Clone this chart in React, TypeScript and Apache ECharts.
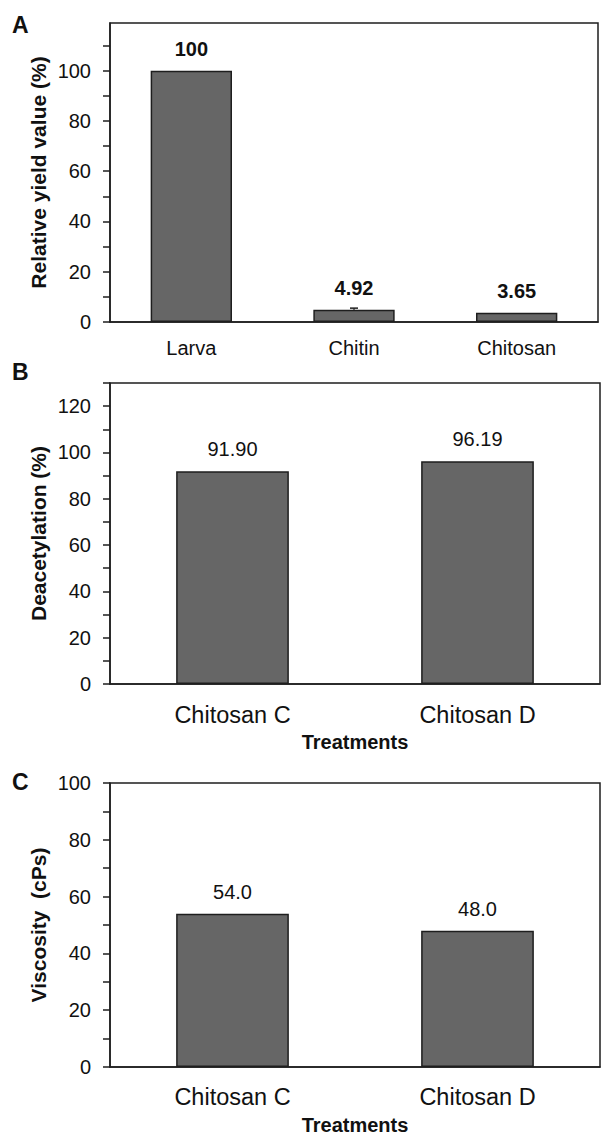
import React, { useEffect, useRef } from "react";
import * as echarts from "echarts";

const yieldCategories = ["Larva", "Chitin", "Chitosan"];
const yieldValues = [100, 4.92, 3.65];
const yieldLabels = ["100", "4.92", "3.65"];
const yieldErrors = [0, 0.6, 0];

const treatmentCategories = ["Chitosan C", "Chitosan D"];
const deacetylationValues = [91.9, 96.19];
const viscosityValues = [54.0, 48.0];

const yieldTicks = [0, 10, 20, 30, 40, 50, 60, 70, 80, 90, 100, 110];
const yieldTickLabels = [0, 20, 40, 60, 80, 100];
const deacTicks = [0, 10, 20, 30, 40, 50, 60, 70, 80, 90, 100, 110, 120, 130];
const deacTickLabels = [0, 20, 40, 60, 80, 100, 120];
const viscTicks = [0, 10, 20, 30, 40, 50, 60, 70, 80, 90, 100];
const viscTickLabels = [0, 20, 40, 60, 80, 100];

const FONT = 'Arial, "Liberation Sans", sans-serif';
const INK = "#111";
const BAR = "#666666";
const EDGE = "#1e1e1e";

export default function App() {
  const ref = useRef<HTMLDivElement>(null);
  useEffect(() => {
    if (!ref.current) return;
    const chart = echarts.init(ref.current, null, { renderer: "svg" });

    const grid = (top: number, height: number, width: number) => ({
      left: 110,
      top,
      width,
      height,
      show: true,
      borderColor: EDGE,
      borderWidth: 1.5,
      backgroundColor: "transparent",
      containLabel: false,
    });

    const xAxis = (gi: number, cats: string[], fontSize: number, margin: number, name: string) => ({
      type: "category",
      gridIndex: gi,
      data: cats,
      axisLine: { show: true, lineStyle: { color: EDGE, width: 1.5 } },
      axisTick: { show: false },
      axisLabel: { color: INK, fontSize, fontFamily: FONT, margin },
      name,
      nameLocation: "middle",
      nameGap: 48,
      nameMoveOverlap: false,
      nameTextStyle: { color: INK, fontSize: 20, fontWeight: "bold", fontFamily: FONT },
    });

    const yAxis = (gi: number, max: number, ticks: number[], labels: number[], name: string) => ({
      type: "value",
      gridIndex: gi,
      min: 0,
      max,
      interval: 10,
      splitLine: { show: false },
      axisLine: { show: true, lineStyle: { color: EDGE, width: 1.5 } },
      axisTick: { show: true, inside: false, length: 7, customValues: ticks, lineStyle: { color: EDGE, width: 1.5 } },
      axisLabel: { color: INK, fontSize: 20, fontFamily: FONT, margin: 19, customValues: labels },
      name,
      nameLocation: "middle",
      nameGap: 61,
      nameMoveOverlap: false,
      nameTextStyle: { color: INK, fontSize: 21, fontWeight: "bold", fontFamily: FONT },
    });

    const barSeries = (gi: number, values: number[], width: string, fmt: (i: number) => string, bold: boolean) => ({
      type: "bar",
      xAxisIndex: gi,
      yAxisIndex: gi,
      data: values,
      barWidth: width,
      itemStyle: { color: BAR, borderColor: EDGE, borderWidth: 1.5 },
      label: {
        show: true,
        position: "top",
        distance: 12,
        color: INK,
        fontSize: 20,
        fontFamily: FONT,
        fontWeight: bold ? "bold" : "normal",
        formatter: (p: any) => fmt(p.dataIndex),
      },
    });

    chart.setOption({
      animation: false,
      backgroundColor: "#ffffff",
      grid: [grid(23, 299, 488), grid(383, 301, 490), grid(783, 284, 490)],
      xAxis: [
        xAxis(0, yieldCategories, 20, 16, ""),
        xAxis(1, treatmentCategories, 23.5, 19, "Treatments"),
        xAxis(2, treatmentCategories, 23.5, 18, "Treatments"),
      ],
      yAxis: [
        yAxis(0, 119, yieldTicks, yieldTickLabels, "Relative yield value (%)"),
        yAxis(1, 130, deacTicks, deacTickLabels, "Deacetylation (%)"),
        yAxis(2, 100, viscTicks, viscTickLabels, "Viscosity  (cPs)"),
      ],
      series: [
        barSeries(0, yieldValues, "50%", (i) => yieldLabels[i], true),
        {
          type: "custom",
          xAxisIndex: 0,
          yAxisIndex: 0,
          data: yieldValues.map((v, i) => [i, v, yieldErrors[i]]),
          renderItem: (params: any, api: any) => {
            const err = api.value(2);
            if (!err) return null;
            const base = api.coord([api.value(0), api.value(1)]);
            const top = api.coord([api.value(0), api.value(1) + err]);
            return {
              type: "group",
              children: [
                { type: "line", shape: { x1: base[0], y1: base[1], x2: top[0], y2: top[1] }, style: { stroke: EDGE, lineWidth: 1.5 } },
                { type: "line", shape: { x1: top[0] - 4, y1: top[1], x2: top[0] + 4, y2: top[1] }, style: { stroke: EDGE, lineWidth: 1.5 } },
              ],
            };
          },
          z: 3,
        },
        barSeries(1, deacetylationValues, "46%", (i) => deacetylationValues[i].toFixed(2), false),
        barSeries(2, viscosityValues, "46%", (i) => viscosityValues[i].toFixed(1), false),
      ],
      graphic: [
        { type: "text", left: 12, top: 13, style: { text: "A", fontSize: 23, fontWeight: "bold", fontFamily: FONT, fill: INK } },
        { type: "text", left: 12, top: 360, style: { text: "B", fontSize: 23, fontWeight: "bold", fontFamily: FONT, fill: INK } },
        { type: "text", left: 12, top: 770, style: { text: "C", fontSize: 23, fontWeight: "bold", fontFamily: FONT, fill: INK } },
      ],
    });

    return () => chart.dispose();
  }, []);

  return (
    <div
      ref={ref}
      style={{ position: "absolute", left: 0, top: 0, width: 610, height: 1137, background: "#fff" }}
    />
  );
}
